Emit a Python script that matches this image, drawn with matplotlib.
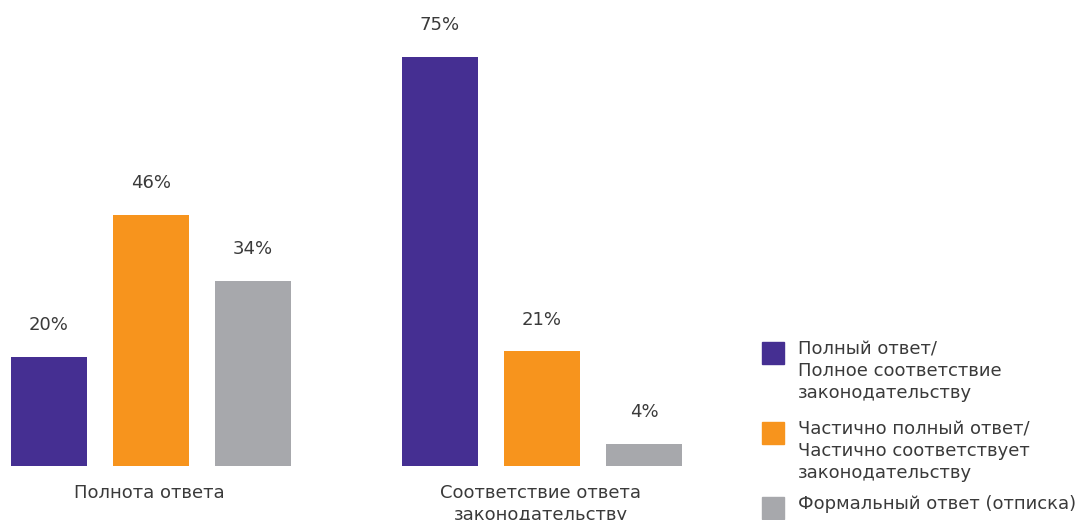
import matplotlib.pyplot as plt
from matplotlib.patches import Rectangle

plt.rcParams['font.family'] = ['DejaVu Sans']

groups = ['Полнота ответа', 'Соответствие ответа\nзаконодательству']
series = ['Полный ответ/\nПолное соответствие\nзаконодательству',
          'Частично полный ответ/\nЧастично соответствует\nзаконодательству',
          'Формальный ответ (отписка)']
values = [[20, 75],   # полный
          [46, 21],   # частично
          [34, 4]]    # формальный
colors = ['#452F92', '#F7941D', '#A7A8AC']
text_color = '#3A3A3A'

W, H = 1079, 520
fig = plt.figure(figsize=(W / 100, H / 100), dpi=100)
# baseline at 466 px from top, 75% reaches 57 px from top
px_per_pct = (466 - 57) / 75
ax = fig.add_axes([0, 54 / H, 1, 466 / H])
ax.set_ylim(0, 466 / px_per_pct)
unit = 102  # px between bar centres
ax.set_xlim(-49 / unit, (W - 49) / unit)
ax.axis('off')

group_gap = 391 / unit
bw = 76 / unit
for i, (vals, c) in enumerate(zip(values, colors)):
    xs = [g * group_gap + i for g in range(len(groups))]
    bars = ax.bar(xs, vals, width=bw, color=c)
    for b, v in zip(bars, vals):
        ax.annotate(f'{v}%', (b.get_x() + b.get_width() / 2, v),
                    xytext=(0, 23), textcoords='offset points',
                    ha='center', va='center', fontsize=13, color=text_color)

for g, name in enumerate(groups):
    ax.annotate(name, (g * group_gap + 1, 0), xytext=(-1, -13),
                textcoords='offset points', ha='center', va='top',
                fontsize=13, color=text_color, linespacing=1.3,
                annotation_clip=False)

# legend
legend_tops = [342, 422, 497]
for name, c, top in zip(series, colors, legend_tops):
    fig.patches.append(Rectangle((762 / W, 1 - (top + 22) / H), 22 / W, 22 / H,
                                 transform=fig.transFigure, color=c))
    fig.text(798 / W, 1 - (top - 2) / H, name, ha='left', va='top',
             fontsize=13, color=text_color, linespacing=1.27)

fig.savefig('out.png', dpi=100)
